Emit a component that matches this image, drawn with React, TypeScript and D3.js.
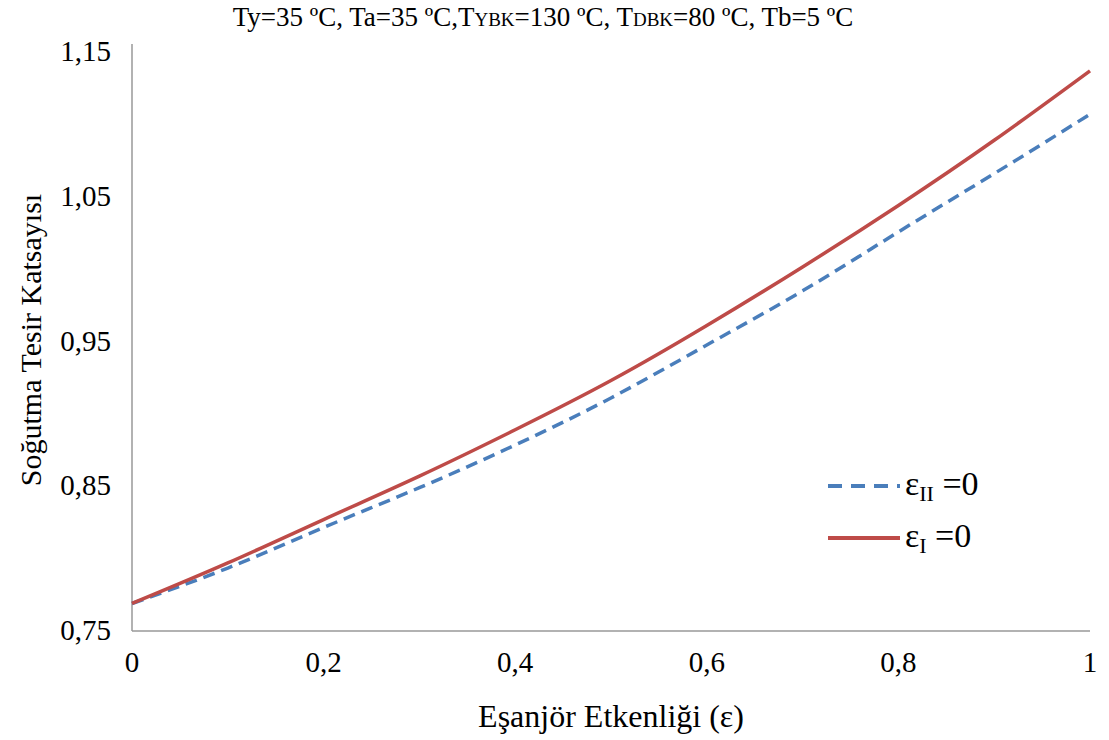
import React from "react";
import * as d3 from "d3";

const xs = [0, 0.1, 0.2, 0.3, 0.4, 0.5, 0.6, 0.7, 0.8, 0.9, 1.0];
const redValues = [0.769, 0.797, 0.827, 0.857, 0.889, 0.923, 0.961, 1.0015, 1.044, 1.089, 1.137];
const blueValues = [0.769, 0.7935, 0.8215, 0.849, 0.8785, 0.911, 0.9476, 0.985, 1.0257, 1.066, 1.107];
const xTicks = [0, 0.2, 0.4, 0.6, 0.8, 1];
const yTicks = [0.75, 0.85, 0.95, 1.05, 1.15];

const W = 1109, H = 740;
const M = { left: 132, right: 1090, top: 52, bottom: 631 };
const fmt = (v: number) => (v === 0 || v === 1 ? String(v) : d3.format(".2~f")(v).replace(".", ","));
const FONT = "Liberation Serif, DejaVu Serif, serif";

export default function App() {
  const x = d3.scaleLinear().domain([0, 1]).range([M.left, M.right]);
  const y = d3.scaleLinear().domain([0.75, 1.15]).range([M.bottom, M.top]);
  const line = d3.line<number>().x((_, i) => x(xs[i])).y((d) => y(d)).curve(d3.curveNatural);
  const ts = { fontFamily: FONT };
  return (
    <svg width={W} height={H} style={{ position: "absolute", left: 0, top: 0, background: "#fff" }}>
      <text x={543} y={26} textAnchor="middle" fontSize={27} style={ts}>
        Ty=35 ºC, Ta=35 ºC,T<tspan fontSize={19}>YBK</tspan>=130 ºC, T<tspan fontSize={19}>DBK</tspan>=80 ºC, Tb=5 ºC
      </text>
      <line x1={M.left} x2={M.left} y1={M.top - 8} y2={M.bottom} stroke="#999" strokeWidth={1.5} />
      <line x1={M.left} x2={M.right} y1={M.bottom} y2={M.bottom} stroke="#999" strokeWidth={1.5} />
      {yTicks.map((t) => (
        <text key={t} x={111} y={y(t) + 9} textAnchor="end" fontSize={29} style={ts}>{fmt(t)}</text>
      ))}
      {xTicks.map((t) => (
        <text key={t} x={x(t)} y={672} textAnchor="middle" fontSize={29} style={ts}>{fmt(t)}</text>
      ))}
      <text x={611} y={727} textAnchor="middle" fontSize={32} style={ts}>Eşanjör Etkenliği (ε)</text>
      <text transform={`translate(41,340) rotate(-90)`} textAnchor="middle" fontSize={30} style={ts}>Soğutma Tesir Katsayısı</text>
      <path d={line(blueValues) || ""} fill="none" stroke="#4a7ebb" strokeWidth={3.5} strokeDasharray="12,7" />
      <path d={line(redValues) || ""} fill="none" stroke="#be4b48" strokeWidth={3.5} />
      <line x1={828} x2={900} y1={486} y2={486} stroke="#4a7ebb" strokeWidth={4} strokeDasharray="14,9" />
      <text x={905} y={495} fontSize={34} style={ts}>ε<tspan fontSize={22} dy={6}>II</tspan><tspan dy={-6}> =0</tspan></text>
      <line x1={828} x2={900} y1={538} y2={538} stroke="#be4b48" strokeWidth={4} />
      <text x={905} y={547} fontSize={34} style={ts}>ε<tspan fontSize={22} dy={6}>I</tspan><tspan dy={-6}>  =0</tspan></text>
    </svg>
  );
}
